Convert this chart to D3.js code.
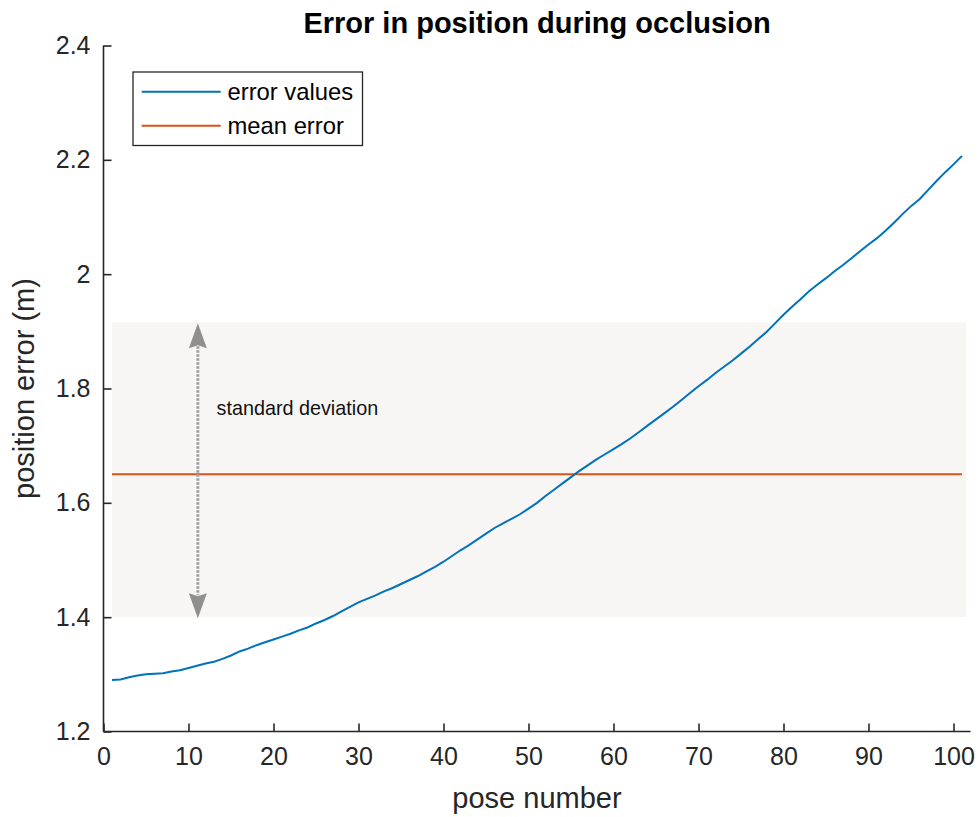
<!DOCTYPE html>
<html><head><meta charset="utf-8">
<script src="https://cdn.jsdelivr.net/npm/d3@7"></script>
<style>body{margin:0;background:#fff}svg{display:block}</style>
</head><body>
<script>
const poses = d3.range(1, 102);
const errorValues = [
1.290,1.291,1.295,1.298,1.300,1.301,1.302,1.305,1.307,1.311,
1.315,1.319,1.322,1.327,1.333,1.340,1.345,1.351,1.356,1.361,
1.366,1.371,1.377,1.382,1.389,1.395,1.402,1.410,1.418,1.426,
1.432,1.438,1.445,1.451,1.458,1.465,1.472,1.480,1.488,1.497,
1.507,1.517,1.526,1.536,1.546,1.556,1.564,1.572,1.580,1.590,
1.600,1.612,1.623,1.634,1.645,1.656,1.666,1.676,1.685,1.694,
1.703,1.713,1.724,1.735,1.746,1.757,1.768,1.780,1.792,1.804,
1.815,1.827,1.838,1.849,1.861,1.873,1.886,1.899,1.914,1.929,
1.943,1.956,1.970,1.982,1.993,2.005,2.016,2.028,2.040,2.052,
2.063,2.076,2.090,2.105,2.119,2.131,2.147,2.163,2.178,2.192,
2.207];
const meanError = 1.650;
const stdBand = [1.400, 1.916];
const bandX = [1, 101.5];
const arrowX = 11.1;
const xTicks = [0,10,20,30,40,50,60,70,80,90,100];
const yTicks = [1.2,1.4,1.6,1.8,2.0,2.2,2.4];
const legendLabels = ["error values", "mean error"];

const W = 980, H = 817;
const font = "'Liberation Sans', Arial, Helvetica, sans-serif";
const axisColor = "#262626";
const blue = "#0072BD", orange = "#D95319";

const svg = d3.select("body").append("svg").attr("width", W).attr("height", H);
const x = d3.scaleLinear().domain([0, 102]).range([103.5, 970.5]);
const y = d3.scaleLinear().domain([1.2, 2.4]).range([731.5, 45.5]);

// std band
svg.append("rect")
  .attr("x", x(bandX[0])).attr("width", x(bandX[1]) - x(bandX[0]))
  .attr("y", y(stdBand[1])).attr("height", y(stdBand[0]) - y(stdBand[1]))
  .attr("fill", "#F7F6F4");

// mean line
svg.append("line")
  .attr("x1", x(1)).attr("x2", x(101))
  .attr("y1", y(meanError)).attr("y2", y(meanError))
  .attr("stroke", orange).attr("stroke-width", 2);

// arrow (dotted shaft with heads)
const ax = x(arrowX);
const yTop = y(stdBand[1]) + 1, yBot = y(stdBand[0]) + 1;
const headH = 25, headW = 9;
svg.append("line")
  .attr("x1", ax).attr("x2", ax).attr("y1", yTop + headH - 2).attr("y2", yBot - headH + 2)
  .attr("stroke", "#a0a0a0").attr("stroke-width", 3).attr("stroke-dasharray", "2.5,1.5");
svg.append("path")
  .attr("d", `M${ax},${yTop} L${ax-headW},${yTop+headH} L${ax},${yTop+headH-3} L${ax+headW},${yTop+headH} Z`)
  .attr("fill", "#8f8f8f");
svg.append("path")
  .attr("d", `M${ax},${yBot} L${ax-headW},${yBot-headH} L${ax},${yBot-headH+3} L${ax+headW},${yBot-headH} Z`)
  .attr("fill", "#8f8f8f");
svg.append("text").attr("x", 216.5).attr("y", 415)
  .attr("font-family", font).attr("font-size", 19.8).attr("fill", "#111")
  .text("standard deviation");

// error line
svg.append("path")
  .datum(poses.map((p, i) => [p, errorValues[i]]))
  .attr("d", d3.line().x(d => x(d[0])).y(d => y(d[1])))
  .attr("fill", "none").attr("stroke", blue).attr("stroke-width", 2);

// axes
const xAxis = svg.append("g").attr("transform", `translate(0,${y(1.2)})`)
  .call(d3.axisBottom(x).tickValues(xTicks).tickSize(-8).tickPadding(16).tickFormat(d3.format("d")));
const yAxis = svg.append("g").attr("transform", `translate(${x(0)},0)`)
  .call(d3.axisLeft(y).tickValues(yTicks).tickSize(-8).tickPadding(13).tickFormat(d => d === 2 ? "2" : d3.format(".1f")(d)));
[xAxis, yAxis].forEach(g => {
  g.select(".domain").attr("stroke", axisColor).attr("stroke-width", 1.6);
  g.selectAll(".tick line").attr("stroke", axisColor).attr("stroke-width", 1.6);
  g.selectAll(".tick text").attr("fill", axisColor).attr("font-family", font).attr("font-size", 25);
});
xAxis.select(".domain").attr("d", `M${x(0)},0H${x(102)}`);
yAxis.select(".domain").attr("d", `M0,${y(2.4)}V${y(1.2)}`);

// labels
svg.append("text").attr("x", (x(0)+x(102))/2).attr("y", 808).attr("text-anchor", "middle")
  .attr("font-family", font).attr("font-size", 29).attr("fill", axisColor).text("pose number");
svg.append("text").attr("transform", `translate(34,${(y(1.2)+y(2.4))/2}) rotate(-90)`)
  .attr("text-anchor", "middle")
  .attr("font-family", font).attr("font-size", 29).attr("fill", axisColor).text("position error (m)");
svg.append("text").attr("x", (x(0)+x(102))/2).attr("y", 33).attr("text-anchor", "middle")
  .attr("font-family", font).attr("font-size", 29).attr("font-weight", "bold").attr("fill", "#000")
  .text("Error in position during occlusion");

// legend
const lg = svg.append("g");
lg.append("rect").attr("x", 133).attr("y", 72).attr("width", 229.5).attr("height", 73.5)
  .attr("fill", "#fff").attr("stroke", axisColor).attr("stroke-width", 1.3);
[blue, orange].forEach((c, i) => {
  const ly = 91.7 + i * 34;
  lg.append("line").attr("x1", 141.7).attr("x2", 220.7).attr("y1", ly).attr("y2", ly)
    .attr("stroke", c).attr("stroke-width", 2);
  lg.append("text").attr("x", 227.5).attr("y", ly + 8).attr("font-family", font)
    .attr("font-size", 23.8).attr("fill", "#000").text(legendLabels[i]);
});
</script>
</body></html>
